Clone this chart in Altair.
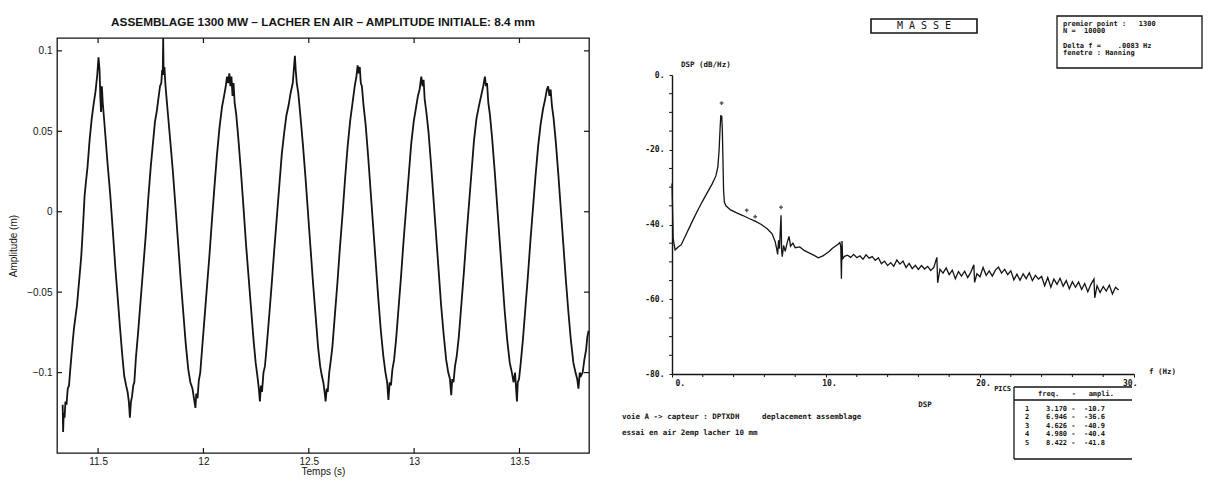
import altair as alt
import pandas as pd

INK = "#141414"
SANS = "Liberation Sans"
MONO = "DejaVu Sans Mono"
NB = "\u00a0"

# ---------------- left panel: displacement trace (time s, amplitude m) ----------------
swing_1 = [(11.332, -0.120), (11.334, -0.137), (11.337, -0.125), (11.341, -0.128), (11.345, -0.118),
           (11.350, -0.120), (11.356, -0.110), (11.362, -0.108), (11.368, -0.098), (11.380, -0.080),
           (11.386, -0.072), (11.390, -0.068), (11.400, -0.058), (11.412, -0.040), (11.420, -0.028),
           (11.428, -0.010), (11.436, 0.010), (11.442, 0.018), (11.450, 0.028), (11.460, 0.045),
           (11.470, 0.058), (11.480, 0.068), (11.488, 0.075), (11.496, 0.085), (11.502, 0.096),
           (11.507, 0.088), (11.511, 0.070), (11.514, 0.062), (11.518, 0.078), (11.522, 0.068),
           (11.527, 0.060), (11.533, 0.050), (11.545, 0.030), (11.558, 0.010), (11.570, -0.012),
           (11.582, -0.035), (11.594, -0.055), (11.604, -0.072), (11.614, -0.088), (11.624, -0.102),
           (11.633, -0.108), (11.640, -0.112), (11.646, -0.118), (11.651, -0.128), (11.656, -0.118),
           (11.661, -0.115), (11.667, -0.108), (11.672, -0.106), (11.680, -0.090)]
swing_2 = [(11.690, -0.075), (11.702, -0.055), (11.714, -0.035), (11.726, -0.015), (11.738, 0.008),
           (11.750, 0.028), (11.760, 0.042), (11.770, 0.056), (11.778, 0.062), (11.786, 0.070),
           (11.794, 0.078), (11.800, 0.080), (11.804, 0.088), (11.807, 0.086), (11.809, 0.108),
           (11.811, 0.085), (11.815, 0.090), (11.819, 0.080), (11.824, 0.072), (11.832, 0.060),
           (11.842, 0.045), (11.855, 0.025), (11.868, 0.002), (11.880, -0.020), (11.892, -0.042),
           (11.904, -0.062), (11.916, -0.082), (11.928, -0.098), (11.938, -0.106), (11.948, -0.110),
           (11.955, -0.116), (11.962, -0.122), (11.966, -0.113), (11.972, -0.116), (11.978, -0.105),
           (11.985, -0.100), (11.992, -0.088)]
swing_3 = [(12.004, -0.068), (12.016, -0.048), (12.028, -0.028), (12.040, -0.006), (12.052, 0.015),
           (12.064, 0.035), (12.076, 0.052), (12.088, 0.065), (12.098, 0.072), (12.106, 0.078),
           (12.112, 0.084), (12.118, 0.080), (12.123, 0.086), (12.128, 0.078), (12.133, 0.084),
           (12.138, 0.072), (12.143, 0.080), (12.148, 0.068), (12.156, 0.060), (12.166, 0.045),
           (12.178, 0.025), (12.190, 0.003), (12.202, -0.020), (12.214, -0.040), (12.226, -0.060),
           (12.238, -0.080), (12.248, -0.094), (12.256, -0.102), (12.263, -0.110), (12.268, -0.118),
           (12.273, -0.108), (12.278, -0.112), (12.285, -0.100), (12.292, -0.096), (12.300, -0.084)]
swing_4 = [(12.312, -0.065), (12.324, -0.045), (12.336, -0.024), (12.348, -0.004), (12.360, 0.016),
           (12.372, 0.036), (12.384, 0.050), (12.394, 0.060), (12.404, 0.066), (12.414, 0.074),
           (12.424, 0.080), (12.430, 0.090), (12.434, 0.097), (12.438, 0.088), (12.443, 0.080),
           (12.450, 0.074), (12.460, 0.060), (12.472, 0.042), (12.484, 0.022), (12.496, 0.000),
           (12.508, -0.022), (12.520, -0.044), (12.532, -0.064), (12.544, -0.084), (12.554, -0.096),
           (12.562, -0.102), (12.569, -0.106), (12.575, -0.112), (12.580, -0.118), (12.585, -0.110),
           (12.590, -0.112), (12.597, -0.100), (12.605, -0.092), (12.612, -0.084)]
swing_5 = [(12.624, -0.064), (12.636, -0.044), (12.648, -0.022), (12.660, -0.002), (12.672, 0.020),
           (12.684, 0.040), (12.696, 0.056), (12.708, 0.068), (12.718, 0.078), (12.726, 0.084),
           (12.732, 0.091), (12.737, 0.086), (12.742, 0.090), (12.747, 0.080), (12.752, 0.078),
           (12.760, 0.066), (12.770, 0.054), (12.782, 0.034), (12.794, 0.012), (12.806, -0.010),
           (12.818, -0.032), (12.830, -0.054), (12.842, -0.074), (12.854, -0.090), (12.864, -0.100),
           (12.872, -0.106), (12.878, -0.117), (12.884, -0.106), (12.890, -0.108), (12.897, -0.098),
           (12.905, -0.092), (12.914, -0.080)]
swing_6 = [(12.926, -0.060), (12.938, -0.040), (12.950, -0.018), (12.962, 0.002), (12.974, 0.022),
           (12.986, 0.042), (12.998, 0.056), (13.008, 0.064), (13.018, 0.072), (13.026, 0.076),
           (13.034, 0.084), (13.040, 0.078), (13.045, 0.082), (13.050, 0.070), (13.058, 0.062),
           (13.068, 0.050), (13.080, 0.030), (13.092, 0.008), (13.104, -0.014), (13.116, -0.036),
           (13.128, -0.058), (13.140, -0.076), (13.152, -0.092), (13.162, -0.100), (13.170, -0.104),
           (13.176, -0.114), (13.181, -0.104), (13.187, -0.106), (13.194, -0.096), (13.202, -0.090),
           (13.212, -0.078)]
swing_7 = [(13.224, -0.058), (13.236, -0.038), (13.248, -0.016), (13.260, 0.004), (13.272, 0.024),
           (13.284, 0.044), (13.296, 0.058), (13.308, 0.066), (13.318, 0.072), (13.328, 0.078),
           (13.336, 0.084), (13.341, 0.078), (13.346, 0.080), (13.352, 0.068), (13.360, 0.060),
           (13.370, 0.046), (13.382, 0.026), (13.394, 0.004), (13.406, -0.018), (13.418, -0.040),
           (13.430, -0.062), (13.442, -0.080), (13.454, -0.094), (13.464, -0.100), (13.472, -0.106),
           (13.479, -0.100), (13.484, -0.110), (13.488, -0.118), (13.492, -0.106), (13.498, -0.104),
           (13.506, -0.094), (13.516, -0.080)]
swing_8 = [(13.528, -0.060), (13.540, -0.040), (13.552, -0.018), (13.564, 0.002), (13.576, 0.022),
           (13.588, 0.040), (13.600, 0.054), (13.612, 0.064), (13.622, 0.070), (13.630, 0.076),
           (13.636, 0.078), (13.642, 0.072), (13.648, 0.076), (13.654, 0.066), (13.662, 0.058),
           (13.672, 0.044), (13.684, 0.024), (13.696, 0.002), (13.708, -0.020), (13.720, -0.042),
           (13.732, -0.062), (13.744, -0.080), (13.756, -0.094), (13.766, -0.100), (13.774, -0.104),
           (13.780, -0.110), (13.786, -0.100), (13.792, -0.102), (13.800, -0.100), (13.808, -0.092),
           (13.816, -0.086), (13.822, -0.078), (13.828, -0.074)]

time_ticks = [11.5, 12, 12.5, 13, 13.5]
amp_ticks = [-0.1, -0.05, 0, 0.05, 0.1]

# ---------------- right panel: power spectral density (Hz, dB/Hz) ----------------
spectrum_low = [(0.0, -29.0), (0.08, -44.0), (0.2, -46.8), (0.4, -46.0), (0.6, -45.4), (0.9, -42.8),
                (1.3, -39.3), (1.6, -36.8), (1.95, -34.0), (2.3, -31.4), (2.6, -29.2), (2.85, -27.0),
                (2.98, -24.5), (3.06, -20.0), (3.12, -14.5), (3.17, -10.7), (3.20, -12.2), (3.23, -10.9),
                (3.27, -15.0), (3.30, -21.0), (3.35, -31.0), (3.40, -34.0), (3.5, -35.0), (3.8, -36.1),
                (4.2, -36.9), (4.6, -37.6), (5.0, -38.4), (5.4, -39.1), (5.8, -40.0), (6.2, -41.2),
                (6.5, -42.5), (6.7, -44.6), (6.8, -46.6), (6.86, -48.0), (6.92, -44.2), (6.98, -46.5),
                (7.04, -41.0), (7.08, -37.5), (7.12, -47.0), (7.16, -48.6), (7.25, -45.6), (7.35, -47.2),
                (7.5, -44.5), (7.6, -43.2), (7.7, -45.8), (7.85, -45.0), (8.0, -46.2), (8.3, -46.0),
                (8.6, -47.0), (8.9, -47.6), (9.2, -48.2), (9.5, -48.9), (9.8, -48.4), (10.0, -47.8),
                (10.2, -47.2), (10.4, -46.4), (10.6, -45.8), (10.8, -45.2), (10.9, -44.8), (10.96, -46.0),
                (11.0, -54.5), (11.04, -44.4), (11.08, -49.2), (11.2, -48.5)]
spectrum_high = [(11.4, -48.2), (11.6, -48.8), (11.8, -48.0), (12.0, -48.9), (12.2, -48.4), (12.4, -49.3),
                 (12.6, -48.1), (12.8, -49.0), (13.0, -48.6), (13.2, -49.6), (13.4, -48.9), (13.6, -50.5),
                 (13.8, -49.8), (14.0, -51.0), (14.2, -50.2), (14.4, -51.2), (14.6, -49.5), (14.8, -50.6),
                 (15.0, -49.8), (15.2, -51.5), (15.4, -50.4), (15.6, -51.8), (15.8, -50.9), (16.0, -52.0),
                 (16.2, -51.0), (16.4, -51.9), (16.6, -51.2), (16.8, -52.3), (17.0, -51.5), (17.2, -48.8),
                 (17.25, -55.6), (17.4, -52.0), (17.6, -53.0), (17.8, -51.6), (18.0, -53.4), (18.2, -52.2),
                 (18.4, -54.5), (18.6, -52.6), (18.8, -53.8), (19.0, -52.5), (19.2, -54.2), (19.4, -52.8),
                 (19.6, -50.8), (19.65, -55.5), (19.8, -53.2), (20.0, -54.0), (20.2, -51.5), (20.4, -53.6),
                 (20.6, -52.4), (20.8, -53.8), (21.0, -52.2), (21.2, -51.4), (21.4, -53.0), (21.6, -52.0),
                 (21.8, -53.4), (22.0, -52.4), (22.2, -54.8), (22.4, -53.3), (22.6, -54.9), (22.8, -53.2),
                 (23.0, -54.5), (23.2, -52.9), (23.4, -55.0), (23.6, -53.6), (23.8, -54.6), (24.0, -53.9),
                 (24.2, -56.4), (24.4, -54.2), (24.6, -56.8), (24.8, -54.6), (25.0, -56.0), (25.2, -54.4),
                 (25.4, -56.5), (25.6, -55.0), (25.8, -57.2), (26.0, -55.3), (26.2, -56.8), (26.4, -55.4),
                 (26.6, -57.4), (26.8, -55.8), (27.0, -58.0), (27.2, -56.0), (27.4, -54.6), (27.45, -59.6),
                 (27.6, -56.4), (27.8, -58.2), (28.0, -56.6), (28.2, -57.8), (28.4, -56.2), (28.6, -58.6),
                 (28.8, -56.8), (29.0, -57.5)]

freq_labels = [0, 10, 20, 30]
freq_minor = [2, 4, 6, 8, 12, 14, 16, 18, 22, 24, 26, 28]
db_labels = [-80, -60, -40, -20, 0]
db_minor = [-75, -70, -65, -55, -50, -45, -35, -30, -25, -15, -10, -5]

marker_freq = [3.22, 4.85, 5.4, 7.08]
marker_db = [-7.5, -36.2, -37.9, -35.4]

peak_num = ["1", "2", "3", "4", "5"]
peak_text = ["3.170 -  -10.7", "6.946 -  -36.6", "4.626 -  -40.9", "4.980 -  -40.4", "8.422 -  -41.8"]

info_lines = ["premier point :   1300", "N =  10000", "", "Delta f =    .0083 Hz", "fenetre : Hanning"]
footer_lines = ["voie A -> capteur : DPTXDH     deplacement assemblage",
                "essai en air 2emp lacher 10 mm"]

# ======================= LEFT CHART =======================
LW, LH = 532, 415
trace = swing_1 + swing_2 + swing_3 + swing_4 + swing_5 + swing_6 + swing_7 + swing_8
left_df = pd.DataFrame(trace, columns=["t", "a"])
xs = alt.Scale(domain=[11.305, 13.83], nice=False, zero=False)
ys = alt.Scale(domain=[-0.15, 0.108], nice=False, zero=False)

ax_common = dict(tickSize=0, domain=False, grid=False, format="~g", labelOverlap=False,
                 labelFont=SANS, labelFontSize=10, labelColor=INK,
                 titleFont=SANS, titleFontSize=10, titleColor=INK, titleFontWeight="normal")

trace_line = alt.Chart(left_df).mark_line(color=INK, strokeWidth=1.8, clip=True).encode(
    x=alt.X("t:Q", scale=xs, axis=alt.Axis(title="Temps (s)", values=time_ticks, labelPadding=3,
                                           titlePadding=0, **ax_common)),
    y=alt.Y("a:Q", scale=ys, axis=alt.Axis(title="Amplitude (m)", values=amp_ticks, labelPadding=5,
                                           titlePadding=8, **ax_common)),
)

xt = pd.DataFrame({"t": time_ticks})
yt = pd.DataFrame({"a": amp_ticks})
tick_bottom = alt.Chart(xt).mark_rule(color=INK, strokeWidth=1.2).encode(
    x=alt.X("t:Q", scale=xs), y=alt.value(LH), y2=alt.value(LH - 5))
tick_top = alt.Chart(xt).mark_rule(color=INK, strokeWidth=1.2).encode(
    x=alt.X("t:Q", scale=xs), y=alt.value(0), y2=alt.value(5))
tick_left = alt.Chart(yt).mark_rule(color=INK, strokeWidth=1.2).encode(
    y=alt.Y("a:Q", scale=ys), x=alt.value(0), x2=alt.value(5))
tick_right = alt.Chart(yt).mark_rule(color=INK, strokeWidth=1.2).encode(
    y=alt.Y("a:Q", scale=ys), x=alt.value(LW), x2=alt.value(LW - 5))

left = alt.layer(trace_line, tick_bottom, tick_top, tick_left, tick_right).properties(
    width=LW, height=LH,
    title=alt.TitleParams("ASSEMBLAGE 1300 MW \u2013 LACHER EN AIR \u2013 AMPLITUDE INITIALE: 8.4 mm",
                          font=SANS, fontSize=11.8, fontWeight="bold", color=INK, offset=9),
    view=alt.ViewBackground(stroke=INK, strokeWidth=1.3),
)

# ======================= RIGHT CHART =======================
RW, RH = 462, 336   # plot area shares its top with the left panel; the dB axis starts 37 px lower
OFF = 37
right_df = pd.DataFrame(spectrum_low + spectrum_high, columns=["f", "db"])
fs = alt.Scale(domain=[0, 30], nice=False)
ds = alt.Scale(domain=[-80, 0], nice=False, range=[RH, OFF])

rax = dict(grid=False, title=None, domainColor=INK, domainWidth=1.4, tickColor=INK, tickSize=3,
           tickWidth=1, labelFont=MONO, labelFontSize=8, labelFontWeight="bold", labelColor=INK,
           labelOverlap=False, labelExpr="datum.value + '.'")

spec_line = alt.Chart(right_df).mark_line(color=INK, strokeWidth=1.3).encode(
    x=alt.X("f:Q", scale=fs, axis=alt.Axis(values=freq_labels, labelPadding=2, labelOffset=3, **rax)),
    y=alt.Y("db:Q", scale=ds, axis=alt.Axis(values=db_labels, labelPadding=5, **rax)),
)

minor_x = alt.Chart(pd.DataFrame({"f": freq_minor})).mark_rule(color=INK, strokeWidth=1).encode(
    x=alt.X("f:Q", scale=fs), y=alt.value(RH), y2=alt.value(RH + 3))
minor_y = alt.Chart(pd.DataFrame({"db": db_minor})).mark_rule(color=INK, strokeWidth=1).encode(
    y=alt.Y("db:Q", scale=ds), x=alt.value(0), x2=alt.value(-3))

mk_df = pd.DataFrame({"f": marker_freq, "db": marker_db})
markers = alt.Chart(mk_df).mark_point(shape="cross", size=14, filled=True, color=INK).encode(
    x=alt.X("f:Q", scale=fs), y=alt.Y("db:Q", scale=ds))


def note(txt, x, y, size=7.5, align="left", weight="bold"):
    txt = txt.replace("  ", NB + NB)
    return alt.Chart(pd.DataFrame({"txt": [txt]})).mark_text(
        align=align, baseline="middle", font=MONO, fontSize=size, fontWeight=weight, color=INK
    ).encode(x=alt.value(x), y=alt.value(y + OFF), text="txt:N")


def hline(x1, x2, y, w=1.3):
    return alt.Chart(pd.DataFrame({"k": [0]})).mark_rule(color=INK, strokeWidth=w).encode(
        x=alt.value(x1), x2=alt.value(x2), y=alt.value(y + OFF))


def vline(x, y1, y2, w=1.3):
    return alt.Chart(pd.DataFrame({"k": [0]})).mark_rule(color=INK, strokeWidth=w).encode(
        x=alt.value(x), y=alt.value(y1 + OFF), y2=alt.value(y2 + OFF))


def box(x1, x2, y1, y2, w=1.4):
    return alt.Chart(pd.DataFrame({"k": [0]})).mark_rect(
        fill="white", fillOpacity=0, stroke=INK, strokeWidth=w).encode(
        x=alt.value(x1), x2=alt.value(x2), y=alt.value(y1 + OFF), y2=alt.value(y2 + OFF))


layers = [spec_line, minor_x, minor_y, markers,
          note("DSP (dB/Hz)", 9, -10),
          note("f (Hz)", 477, 297),
          note("DSP", 253, 330, align="center"),
          box(199, 305, -56, -42, w=1.6),
          note("M A S S E", 252, -49, size=10, align="center", weight="normal"),
          box(385, 530, -59, -7, w=1.3)]
for i, line_txt in enumerate(info_lines):
    if line_txt:
        layers.append(note(line_txt, 391, -51 + 7.3 * i, size=7))
for i, line_txt in enumerate(footer_lines):
    layers.append(note(line_txt, -50, 342 + 16 * i, size=7.5))
# peaks table
layers += [note("PICS", 339, 314, size=7, align="right"),
           hline(342, 460, 312, w=1.6), hline(342, 460, 325, w=1.3), hline(342, 460, 384, w=1.6),
           vline(342, 312, 384, w=1.3),
           note("freq.   -   ampli.", 404, 319, size=7, align="center")]
for i, (n, txt) in enumerate(zip(peak_num, peak_text)):
    layers.append(note(n, 353, 334 + 8.4 * i, size=7))
    layers.append(note(txt, 374, 334 + 8.4 * i, size=7))

right = alt.layer(*layers).properties(
    width=RW, height=RH,
    view=alt.ViewBackground(stroke="transparent"),
)

chart = alt.hconcat(left, right, spacing=30).properties(
    padding={"top": 6, "left": 0, "right": 0, "bottom": 0},
    background="white",
)

chart.save("out.html", embed_options={"renderer": "svg", "actions": False})
